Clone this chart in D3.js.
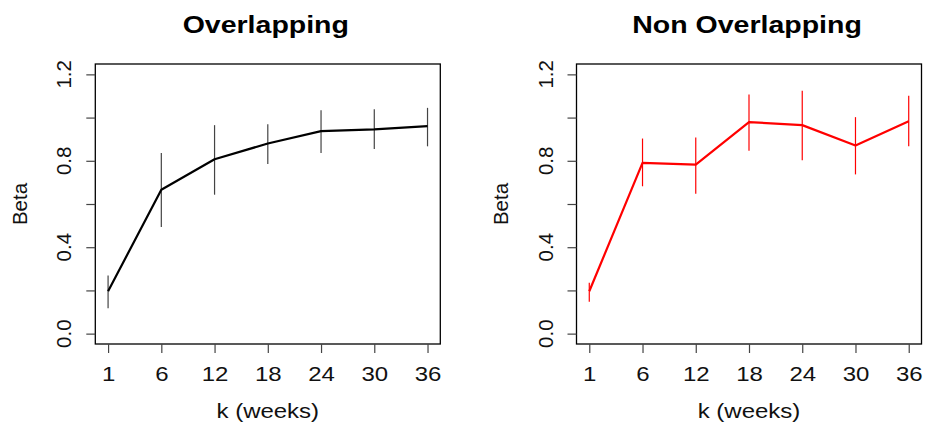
<!DOCTYPE html>
<html><head><meta charset="utf-8">
<script src="https://cdn.jsdelivr.net/npm/d3@7"></script>
<style>body{margin:0;background:#fff}text{font-family:"Liberation Sans",Arial,sans-serif}</style>
</head><body>
<svg id="c" width="925" height="423"></svg>
<script>
const kLabels = ["1","6","12","18","24","30","36"];
const overlapBeta = [0.196,0.666,0.807,0.880,0.937,0.945,0.960];
const overlapLo   = [0.117,0.493,0.643,0.785,0.836,0.855,0.867];
const overlapHi   = [0.269,0.836,0.965,0.969,1.034,1.039,1.045];
const nonBeta = [0.196,0.790,0.782,0.979,0.965,0.871,0.983];
const nonLo   = [0.148,0.682,0.648,0.846,0.802,0.737,0.867];
const nonHi   = [0.235,0.903,0.908,1.107,1.124,1.002,1.101];
const yTicks = [0,0.2,0.4,0.6,0.8,1.0,1.2];
const yLabelTicks = [0,0.4,0.8,1.2];

const svg = d3.select("#c");
const SX = 1.17;

function panel(left, title, beta, lo, hi, lineColor, barColor){
  const x0 = left, x1 = left + 345, yTop = 64, yBot = 344;
  const x = d3.scaleLinear().domain([0.76, 7.24]).range([x0, x1]);
  const y = d3.scaleLinear().domain([-0.048, 1.248]).range([yBot, yTop]);
  const g = svg.append("g");
  g.append("rect").attr("x", x0).attr("y", yTop).attr("width", x1 - x0).attr("height", yBot - yTop)
    .attr("fill", "none").attr("stroke", "#000").attr("stroke-width", 1.3);
  const ya = g.append("g").attr("transform", `translate(${x0},0)`)
    .call(d3.axisLeft(y).tickValues(yTicks).tickSize(9).tickFormat(""));
  ya.select(".domain").remove();
  ya.selectAll("line").attr("stroke", "#444").attr("stroke-width", 1.2);
  yLabelTicks.forEach(v => {
    g.append("text").attr("transform", `translate(${x0 - 24},${y(v)}) rotate(-90)`)
      .attr("text-anchor", "middle").attr("font-size", 20.5).attr("fill", "#111")
      .text(d3.format(".1f")(v));
  });
  const xa = g.append("g").attr("transform", `translate(0,${yBot})`)
    .call(d3.axisBottom(x).tickValues(d3.range(1, 8)).tickSize(9).tickFormat((d,i) => kLabels[i]));
  xa.select(".domain").remove();
  xa.selectAll("line").attr("stroke", "#444").attr("stroke-width", 1.2);
  xa.selectAll("text").attr("font-size", 20.5).attr("fill", "#111").attr("dy", 0).attr("y", 37)
    .attr("transform", `scale(${SX},1)`);
  g.append("text").attr("transform", `translate(${(x0 + x1) / 2},418) scale(${SX},1)`).attr("text-anchor", "middle")
    .attr("font-size", 20.5).attr("fill", "#111").text("k (weeks)");
  g.append("text").attr("transform", `translate(${x0 - 68.5},${(yTop + yBot) / 2}) rotate(-90)`)
    .attr("text-anchor", "middle").attr("font-size", 20.5).attr("fill", "#111").text("Beta");
  g.append("text").attr("transform", `translate(${(x0 + x1) / 2 - 2},33) scale(1.24,1)`).attr("text-anchor", "middle")
    .attr("font-size", 23).attr("font-weight", "bold").attr("fill", "#000").text(title);
  g.selectAll(".eb").data(beta).enter().append("line")
    .attr("x1", (d,i) => x(i + 1)).attr("x2", (d,i) => x(i + 1))
    .attr("y1", (d,i) => y(lo[i])).attr("y2", (d,i) => y(hi[i]))
    .attr("stroke", barColor).attr("stroke-width", 1.2);
  const line = d3.line().x((d,i) => x(i + 1)).y(d => y(d));
  g.append("path").datum(beta).attr("d", line).attr("fill", "none")
    .attr("stroke", lineColor).attr("stroke-width", 2.2).attr("stroke-linejoin", "round");
}

panel(95.3, "Overlapping", overlapBeta, overlapLo, overlapHi, "#000", "#444");
panel(576.5, "Non Overlapping", nonBeta, nonLo, nonHi, "#ff0000", "#ff0000");
</script>
</body></html>
